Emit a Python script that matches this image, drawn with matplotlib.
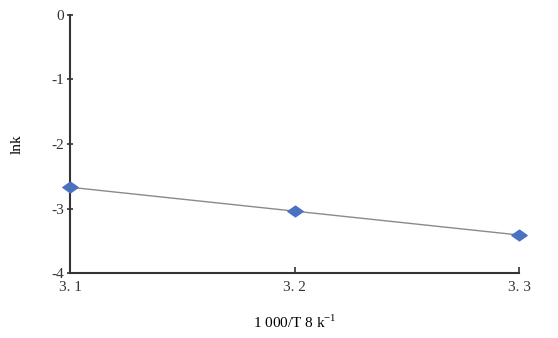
import numpy as np
import matplotlib.pyplot as plt
from matplotlib.path import Path

# Data
inv_T = [3.1, 3.2, 3.3]
lnk = [-2.67, -3.04, -3.41]
y_ticks = [0, -1, -2, -3, -4]
x_ticks = [3.1, 3.2, 3.3]

plt.rcParams["font.family"] = ["Liberation Serif", "DejaVu Serif"]
plt.rcParams["mathtext.fontset"] = "custom"
plt.rcParams["mathtext.rm"] = "Liberation Serif"

fig = plt.figure(figsize=(5.58, 3.38), dpi=100)
ax = fig.add_axes([0.1254, 0.192, 0.805, 0.764])

# fitted line
coef = np.polyfit(inv_T, lnk, 1)
xs = np.array([inv_T[0], inv_T[-1]])
ax.plot(xs, np.polyval(coef, xs), color="#8a8a8a", lw=1.0, zorder=2)

# wide diamond markers
diamond = Path([(-1, 0), (0, 0.7), (1, 0), (0, -0.7), (-1, 0)],
               [Path.MOVETO, Path.LINETO, Path.LINETO, Path.LINETO, Path.CLOSEPOLY])
ax.plot(inv_T, lnk, linestyle="none", marker=diamond, ms=11,
        color="#4a72c0", mec="#4a72c0", zorder=3, clip_on=False)

ax.set_xlim(3.1, 3.3)
ax.set_ylim(-4, 0)
ax.set_xticks(x_ticks)
ax.set_xticklabels(["3. 1", "3. 2", "3. 3"])
ax.set_yticks(y_ticks)
ax.set_yticklabels(["0", "-1", "-2", "-3", "-4"])

for side in ["top", "right"]:
    ax.spines[side].set_visible(False)
for side in ["left", "bottom"]:
    ax.spines[side].set_color("#333333")
    ax.spines[side].set_linewidth(1.5)

ax.tick_params(axis="y", direction="inout", length=5, width=1.2, colors="#333333", labelsize=11, pad=2)
ax.tick_params(axis="x", direction="in", length=4, width=1.2, colors="#333333", labelsize=11, pad=6)

ax.set_ylabel("lnk", fontsize=11, labelpad=20)
ax.set_xlabel("1 000/T 8 k$^{-1}$", fontsize=11, labelpad=14)

fig.savefig("out.png", dpi=100)
